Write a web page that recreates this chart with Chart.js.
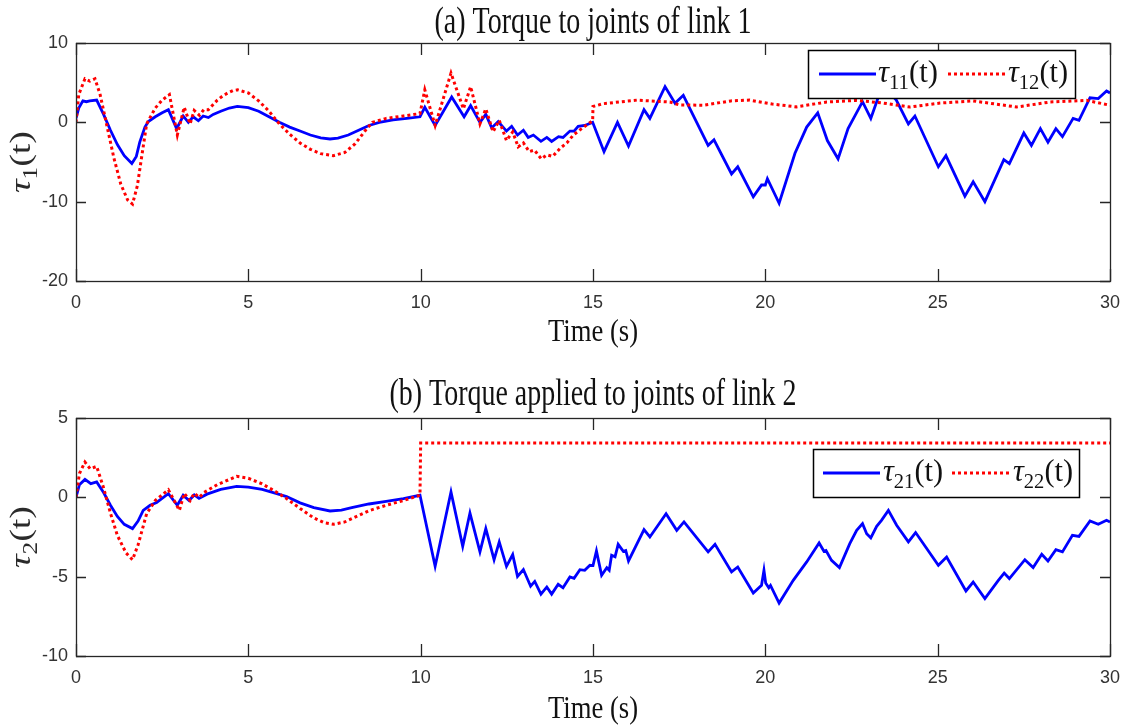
<!DOCTYPE html>
<html>
<head>
<meta charset="utf-8">
<script src="https://cdn.jsdelivr.net/npm/chart.js@4.4.1/dist/chart.umd.min.js"></script>
<style>
  html, body { margin: 0; padding: 0; background: #fff; }
  body { width: 1126px; height: 727px; position: relative; overflow: hidden; }
  canvas { position: absolute; left: 0; }
  #c1 { top: 0; }
  #c2 { top: 365px; }
</style>
</head>
<body>
<canvas id="c1" width="1126" height="365"></canvas>
<canvas id="c2" width="1126" height="362"></canvas>
<script>
// ---------------- DATA ----------------
const xTicks = [0, 5, 10, 15, 20, 25, 30];
const yTicksA = [-20, -10, 0, 10];
const yTicksB = [-10, -5, 0, 5];

// (a) tau_11 (blue, solid)
const tA11 = [0,0.08,0.2,0.3,0.4,0.6,0.8,1.0,1.2,1.4,1.62,1.75,1.85,2.0,2.1,2.3,2.5,2.68,2.92,3.11,3.26,3.4,3.55,3.69,3.84,3.98,4.2,4.45,4.68,5.0,5.3,5.6,5.9,6.2,6.5,6.8,7.1,7.37,7.6,7.9,8.2,8.5,8.8,9.2,9.6,9.98,10.12,10.42,10.9,11.26,11.45,11.72,11.89,12.06,12.25,12.49,12.64,12.81,12.98,13.12,13.27,13.49,13.66,13.8,14.0,14.13,14.33,14.45,14.57,14.76,14.99,15.32,15.71,16.03,16.48,16.65,17.09,17.38,17.62,18.34,18.51,19.02,19.2,19.65,19.89,20.0,20.06,20.4,20.86,21.2,21.52,21.8,22.11,22.4,22.82,23.06,23.28,23.55,23.8,24.15,24.34,25.02,25.24,25.79,26.03,26.37,26.92,27.08,27.5,27.72,27.98,28.2,28.43,28.62,28.93,29.1,29.42,29.66,29.9,30];
const vA11 = [0.5,1.8,2.7,2.6,2.7,2.8,1.0,-1.0,-2.8,-4.2,-5.2,-4.3,-2.5,-0.6,0.1,0.7,1.2,1.6,-0.8,0.8,0.0,0.7,0.2,0.8,0.6,1.0,1.4,1.8,2.0,1.85,1.4,0.7,0.0,-0.6,-1.1,-1.6,-1.95,-2.1,-2.0,-1.6,-1.0,-0.4,0.0,0.3,0.5,0.7,1.9,-0.4,3.2,0.7,2.1,0.0,1.0,-0.7,0.1,-1.1,-0.5,-1.6,-1.0,-1.9,-1.6,-2.4,-1.9,-2.4,-1.8,-1.9,-1.1,-1.1,-0.5,-0.4,0.0,-3.7,0.0,-3.0,1.6,0.5,4.5,2.4,3.4,-2.9,-2.2,-6.5,-5.6,-9.4,-7.9,-7.9,-7.1,-10.2,-3.9,-0.6,1.2,-2.3,-4.6,-0.8,2.6,0.5,3.2,4.0,2.8,-0.2,0.8,-5.6,-4.2,-9.3,-7.5,-10.0,-4.7,-5.2,-1.35,-2.9,-0.8,-2.5,-0.8,-1.8,0.5,0.25,3.1,3.0,3.95,3.7];

// (a) tau_12 (red, dotted)
const tA12 = [0,0.08,0.26,0.4,0.55,0.7,0.9,1.1,1.3,1.5,1.64,1.78,1.9,2.05,2.3,2.5,2.71,2.94,3.14,3.31,3.43,3.58,3.71,3.84,4.1,4.25,4.4,4.55,4.69,5.0,5.3,5.6,5.9,6.2,6.5,6.8,7.1,7.47,7.8,8.1,8.4,8.6,9.0,9.5,9.98,10.12,10.42,10.88,11.24,11.45,11.72,11.89,12.1,12.28,12.49,12.67,12.83,12.98,13.15,13.3,13.5,13.66,13.83,14.04,14.24,14.43,14.67,14.99,15.0,15.3,16.27,17.23,17.5,18.2,19.0,19.55,20.2,20.9,21.78,22.65,23.42,24.2,25.07,26.03,27.29,28.26,29.32,30];
const vA12 = [0,3.5,5.5,5.2,5.5,3.5,-0.5,-4.5,-7.8,-9.8,-10.3,-8.0,-4.5,-0.2,1.8,2.8,3.5,-1.6,1.9,-0.2,1.5,0.9,1.6,1.6,2.8,3.3,3.7,4.0,4.1,3.7,2.7,1.4,-0.2,-1.5,-2.6,-3.4,-3.95,-4.2,-3.8,-2.7,-1.0,0.0,0.5,0.8,1.1,4.1,-0.4,6.2,1.7,4.5,-0.2,1.7,-1.2,0.25,-2.3,-1.2,-3.1,-2.6,-3.7,-3.5,-4.6,-4.1,-4.3,-3.3,-2.6,-1.6,-0.8,0.2,2.0,2.35,2.8,2.56,2.2,2.15,2.7,2.8,2.3,1.95,2.56,2.77,2.43,1.93,2.43,2.7,1.93,2.56,2.77,2.15];

// (b) tau_21 (blue, solid)
const tB21 = [0,0.1,0.26,0.43,0.6,0.8,1.0,1.2,1.4,1.64,1.8,1.95,2.15,2.34,2.68,2.94,3.11,3.28,3.43,3.57,3.8,4.2,4.66,5.0,5.4,5.8,6.11,6.5,6.9,7.37,7.7,8.0,8.5,9.0,9.5,9.98,10.42,10.88,11.22,11.43,11.72,11.89,12.13,12.28,12.49,12.67,12.81,12.98,13.19,13.31,13.49,13.66,13.8,13.99,14.13,14.33,14.45,14.62,14.76,14.91,15.0,15.1,15.25,15.4,15.47,15.54,15.64,15.73,15.88,15.95,16.03,16.48,16.65,17.12,17.43,17.64,18.34,18.54,19.02,19.2,19.65,19.89,19.96,20.01,20.1,20.15,20.4,20.81,21.2,21.56,21.7,21.76,21.92,22.15,22.45,22.65,22.82,22.94,23.06,23.23,23.37,23.57,23.81,24.15,24.36,25.02,25.26,25.82,26.03,26.37,26.76,26.93,27.08,27.53,27.77,28.02,28.2,28.43,28.62,28.91,29.1,29.42,29.66,29.9,30];
const vB21 = [0.0,0.8,1.13,0.86,0.97,0.3,-0.5,-1.2,-1.7,-1.97,-1.5,-0.82,-0.5,-0.32,0.23,-0.5,0.13,-0.2,0.15,-0.07,0.2,0.5,0.69,0.65,0.5,0.25,0.05,-0.35,-0.65,-0.86,-0.8,-0.65,-0.42,-0.25,-0.08,0.13,-4.35,0.34,-3.09,-0.99,-3.44,-1.97,-3.93,-2.81,-4.35,-3.61,-4.98,-4.55,-5.6,-5.3,-6.1,-5.65,-6.1,-5.48,-5.7,-5.02,-5.1,-4.56,-4.6,-4.28,-4.3,-3.38,-4.91,-4.44,-4.6,-3.65,-3.75,-2.96,-3.4,-3.35,-4.01,-2.04,-2.5,-1.03,-2.08,-1.55,-3.44,-2.96,-4.7,-4.39,-6.03,-5.54,-4.6,-5.4,-5.7,-5.55,-6.66,-5.23,-4.07,-2.88,-3.4,-3.35,-3.97,-4.43,-2.92,-2.08,-1.66,-2.29,-2.55,-1.83,-1.45,-0.82,-1.76,-2.81,-2.22,-4.28,-3.76,-5.9,-5.34,-6.38,-5.23,-4.77,-5.12,-3.93,-4.43,-3.59,-4.01,-3.3,-3.44,-2.39,-2.46,-1.49,-1.7,-1.45,-1.55];

// (b) tau_22 (red, dotted)
const tB22 = [0,0.1,0.26,0.41,0.6,0.8,1.0,1.2,1.45,1.64,1.8,2.05,2.3,2.68,3.0,3.14,3.31,3.43,3.58,3.71,4.1,4.66,5.0,5.4,5.8,6.11,6.5,6.9,7.2,7.47,7.8,8.2,8.53,9.0,9.5,9.98,10.0,30];
const vB22 = [0,1.5,2.22,1.8,1.95,0.6,-1.0,-2.4,-3.5,-3.93,-3.0,-1.03,-0.2,0.48,-0.82,0.25,-0.2,0.25,0.0,0.3,0.8,1.32,1.2,0.85,0.35,-0.08,-0.7,-1.3,-1.6,-1.7,-1.55,-1.15,-0.82,-0.5,-0.2,0.13,3.42,3.42];

// ---------------- helpers ----------------
const BLUE = '#0000ff', RED = '#ff0000', AXIS = '#262626';
const pts = (t, v) => t.map((x, i) => ({ x, y: v[i] }));

function richWidth(ctx, parts) {
  let w = 0;
  for (const p of parts) { ctx.font = p.f; w += ctx.measureText(p.t).width; }
  return w;
}
function drawRich(ctx, parts, x, y, o = {}) {
  ctx.save();
  ctx.translate(x, y);
  if (o.rotate) ctx.rotate(o.rotate);
  const w = richWidth(ctx, parts);
  const s = o.width ? o.width / w : 1;
  ctx.scale(s, 1);
  let cx = o.align === 'left' ? 0 : -w / 2;
  ctx.textAlign = 'left';
  ctx.textBaseline = 'alphabetic';
  ctx.fillStyle = o.color || '#111';
  for (const p of parts) {
    ctx.font = p.f;
    ctx.fillText(p.t, cx, p.dy || 0);
    cx += ctx.measureText(p.t).width;
  }
  ctx.restore();
}
const SERIF = '"Liberation Serif", "DejaVu Serif", serif';
function tauParts(sub, size) {
  return [
    { t: 'τ', f: `italic ${size}px ${SERIF}` },
    { t: sub, f: `${Math.round(size * 0.68)}px ${SERIF}`, dy: size * 0.22 },
    { t: '(t)', f: `${size}px ${SERIF}` }
  ];
}

// Plugin: box frame, inward ticks, titles, legend
const decor = {
  id: 'decor',
  afterDatasetsDraw(chart, args, opts) {
    const { ctx, chartArea: a } = chart;
    const xs = chart.scales.x, ys = chart.scales.y;
    ctx.save();
    ctx.strokeStyle = AXIS;
    ctx.lineWidth = 1.3;
    ctx.beginPath();
    xs.ticks.forEach(t => {
      const p = Math.round(xs.getPixelForValue(t.value)) + 0.5;
      ctx.moveTo(p, a.bottom); ctx.lineTo(p, a.bottom - 12);
      ctx.moveTo(p, a.top); ctx.lineTo(p, a.top + 12);
    });
    ys.ticks.forEach(t => {
      const p = Math.round(ys.getPixelForValue(t.value)) + 0.5;
      ctx.moveTo(a.left, p); ctx.lineTo(a.left + 10, p);
      ctx.moveTo(a.right, p); ctx.lineTo(a.right - 10, p);
    });
    ctx.stroke();
    ctx.strokeRect(Math.round(a.left) + 0.5, Math.round(a.top) + 0.5,
                   Math.round(a.right - a.left), Math.round(a.bottom - a.top));
    ctx.restore();

    // legend
    const L = opts.legend;
    const ds = chart.data.datasets;
    ctx.save();
    ctx.fillStyle = '#fff';
    ctx.fillRect(L.x, L.y, L.w, L.h);
    ctx.strokeStyle = '#000';
    ctx.lineWidth = 1.5;
    ctx.strokeRect(L.x + 0.5, L.y + 0.5, L.w, L.h);
    const cy = L.y + L.h / 2;
    L.items.forEach((it, i) => {
      const d = ds[i];
      ctx.strokeStyle = d.borderColor;
      ctx.lineWidth = d.borderWidth;
      ctx.setLineDash(d.borderDash || []);
      ctx.beginPath();
      ctx.moveTo(L.x + it.lx, cy); ctx.lineTo(L.x + it.lx + 57, cy);
      ctx.stroke();
      ctx.setLineDash([]);
      drawRich(ctx, tauParts(it.sub, 31), L.x + it.tx, cy + 8, { width: 60, align: 'left' });
    });
    ctx.restore();

    // titles
    const T = opts.titles;
    drawRich(ctx, [{ t: T.main, f: `38px ${SERIF}` }], (a.left + a.right) / 2, T.mainY, { width: T.mainW });
    drawRich(ctx, [{ t: 'Time (s)', f: `32px ${SERIF}` }], (a.left + a.right) / 2, T.xY, { width: 90 });
    drawRich(ctx, tauParts(T.ySub, 30), 30, (a.top + a.bottom) / 2, { rotate: -Math.PI / 2, width: 62, color: '#2a2a2a' });
  }
};

function makeChart(id, dBlue, dRed, labels, yMin, yMax, yTicks, pad, decorOpts) {
  return new Chart(document.getElementById(id), {
    type: 'line',
    data: {
      datasets: [
        { label: labels[0], data: dBlue, borderColor: BLUE, borderWidth: 2.8, pointRadius: 0, tension: 0, fill: false, order: 1 },
        { label: labels[1], data: dRed, borderColor: RED, borderWidth: 3, borderDash: [3, 3], pointRadius: 0, tension: 0, fill: false, order: 0 }
      ]
    },
    options: {
      responsive: false,
      animation: false,
      devicePixelRatio: 1,
      layout: { padding: pad },
      plugins: { legend: { display: false }, tooltip: { enabled: false }, title: { display: false }, decor: decorOpts },
      scales: {
        x: {
          type: 'linear', min: 0, max: 30,
          afterBuildTicks: s => { s.ticks = xTicks.map(v => ({ value: v })); },
          ticks: { color: '#333', font: { family: '"Liberation Sans", Arial, sans-serif', size: 18 }, padding: 11, maxRotation: 0 },
          grid: { display: false, drawTicks: false, tickLength: 0 },
          border: { display: false },
          afterFit: s => { s.height = 60; s.paddingLeft = 0; s.paddingRight = 0; }
        },
        y: {
          type: 'linear', min: yMin, max: yMax,
          afterBuildTicks: s => { s.ticks = yTicks.map(v => ({ value: v })); },
          ticks: { color: '#333', font: { family: '"Liberation Sans", Arial, sans-serif', size: 18 }, padding: 8 },
          grid: { display: false, drawTicks: false, tickLength: 0 },
          border: { display: false },
          afterFit: s => { s.width = 76; s.paddingTop = 0; s.paddingBottom = 0; }
        }
      }
    },
    plugins: [decor]
  });
}

makeChart('c1', pts(tA11, vA11), pts(tA12, vA12), ['τ11(t)', 'τ12(t)'], -20, 10, yTicksA,
  { top: 43, right: 16, left: 0, bottom: 24 },
  {
    legend: { x: 808, y: 50, w: 267, h: 48, items: [{ lx: 11, tx: 70, sub: '11' }, { lx: 140, tx: 200, sub: '12' }] },
    titles: { main: '(a) Torque to joints of link 1', mainY: 33, mainW: 317, xY: 341, ySub: '1' }
  });

makeChart('c2', pts(tB21, vB21), pts(tB22, vB22), ['τ21(t)', 'τ22(t)'], -10, 5, yTicksB,
  { top: 53, right: 16, left: 0, bottom: 11 },
  {
    legend: { x: 813, y: 84, w: 266, h: 48, items: [{ lx: 10, tx: 70, sub: '21' }, { lx: 139, tx: 200, sub: '22' }] },
    titles: { main: '(b) Torque applied to joints of link 2', mainY: 40, mainW: 407, xY: 353, ySub: '2' }
  });
</script>
</body>
</html>
